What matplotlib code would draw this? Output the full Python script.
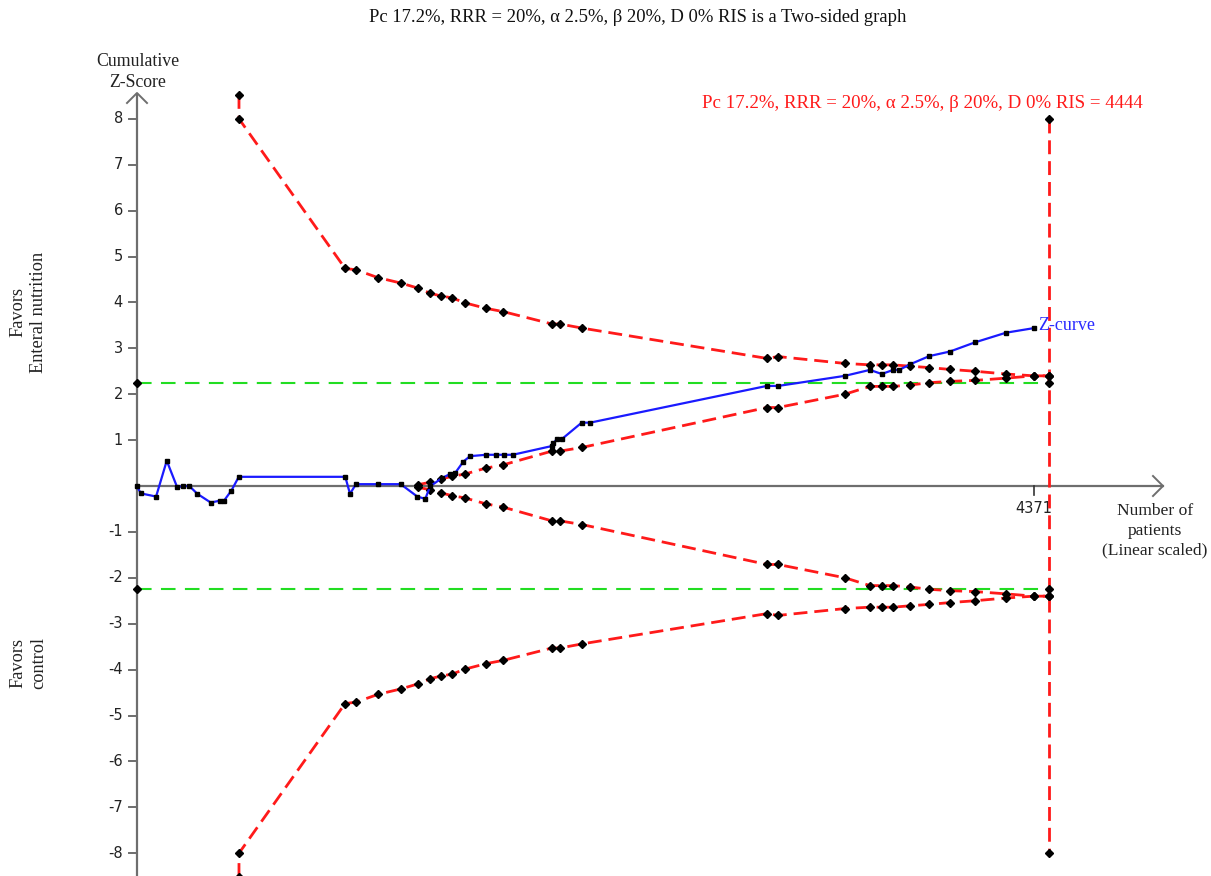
import matplotlib
matplotlib.use("Agg")
import matplotlib.pyplot as plt
import numpy as np

# Cumulative Z-curve (patients, Z)
z_n = [0, 18, 93, 145, 196, 226, 255, 294, 359, 404, 424, 460, 496, 1015, 1038,
       1067, 1174, 1285, 1366, 1405, 1428, 1485, 1525, 1550, 1590, 1623, 1701,
       1750, 1788, 1831, 2021, 2029, 2045, 2070, 2167, 2208, 3069, 3125, 3450,
       3572, 3629, 3686, 3715, 3767, 3861, 3962, 4084, 4235, 4371]
z_val = [0.0, -0.16, -0.23, 0.55, -0.03, 0.0, 0.0, -0.17, -0.36, -0.32, -0.32,
         -0.10, 0.20, 0.20, -0.17, 0.04, 0.04, 0.04, -0.23, -0.28, -0.01, 0.17,
         0.26, 0.28, 0.53, 0.65, 0.68, 0.68, 0.68, 0.68, 0.87, 0.93, 1.02, 1.02,
         1.38, 1.38, 2.18, 2.18, 2.40, 2.53, 2.44, 2.53, 2.53, 2.65, 2.83, 2.93,
         3.13, 3.34, 3.44]

# Trial sequential monitoring boundary (upper; lower is mirrored)
bnd_n = [497, 497, 1014, 1067, 1174, 1287, 1370, 1428, 1481, 1535, 1598, 1701,
         1784, 2022, 2061, 2169, 3070, 3124, 3450, 3572, 3631, 3684, 3767, 3860,
         3962, 4084, 4235, 4371, 4444]
bnd_z = [8.52, 8.0, 4.74, 4.71, 4.54, 4.42, 4.31, 4.20, 4.14, 4.10, 3.99, 3.87,
         3.80, 3.53, 3.53, 3.44, 2.78, 2.82, 2.67, 2.64, 2.64, 2.64, 2.61, 2.58,
         2.54, 2.50, 2.44, 2.40, 2.40]

# Inner wedge boundary (upper; lower is mirrored)
fut_n = [1370, 1428, 1481, 1535, 1598, 1701, 1784, 2022, 2061, 2169, 3070, 3124,
         3450, 3572, 3631, 3684, 3767, 3860, 3962, 4084, 4235, 4371, 4444, 4444]
fut_z = [0.03, 0.08, 0.15, 0.21, 0.26, 0.39, 0.46, 0.76, 0.76, 0.84, 1.71, 1.71,
         2.00, 2.17, 2.17, 2.17, 2.20, 2.25, 2.28, 2.30, 2.35, 2.40, 2.40, 2.24]

conv_z = 2.24          # conventional boundary
ris = 4444             # required information size
acc_n = 4371           # accrued patients
y_ticks = [-8, -7, -6, -5, -4, -3, -2, -1, 1, 2, 3, 4, 5, 6, 7, 8]

W, H = 1211, 876
fig = plt.figure(figsize=(W / 100, H / 100), dpi=100)
ax = fig.add_axes([0, 0, 1, 1])
# pixel mapping: origin at (137, 486), 0.2052 px/patient, 45.9 px/unit Z
px_n, px_z, x0, y0 = 0.2052, 45.9, 137, 486
ax.set_xlim(-x0 / px_n, (W - x0) / px_n)
ax.set_ylim((y0 - H) / px_z, y0 / px_z)
ax.axis("off")

serif = "Liberation Serif"
sans = "DejaVu Sans"
axis_col = "#6e6e6e"
red = "#ff1a1a"
green = "#22dd22"
ms_d = 4.0

# axes with arrow heads
ax.plot([0, 0], [(y0 - H) / px_z, (y0 - 93) / px_z], color=axis_col, lw=1.6,
        solid_capstyle="butt", zorder=2)
ax.plot([0, (1163 - x0) / px_n], [0, 0], color=axis_col, lw=1.6, zorder=2)
ah_n, ah_z = 10 / px_n, 10 / px_z
top = (y0 - 93) / px_z
ax.plot([-ah_n, 0, ah_n], [top - ah_z, top, top - ah_z], color=axis_col, lw=1.4)
right = (1163 - x0) / px_n
ax.plot([right - ah_n, right, right - ah_n], [ah_z, 0, -ah_z], color=axis_col, lw=1.4)

# y ticks
for t in y_ticks:
    ax.plot([-8 / px_n, 0], [t, t], color=axis_col, lw=1.4)
    ax.text(-14 / px_n, t, str(t), ha="right", va="center", fontsize=10.5,
            family=sans, color="#222222")
ax.plot([acc_n, acc_n], [0, -9 / px_z], color="#333333", lw=1.2)
ax.text(acc_n, -15 / px_z, str(acc_n), ha="center", va="top", fontsize=10.5,
        family=sans, color="#222222")

# conventional boundaries
for s in (1, -1):
    ax.plot([0, ris], [s * conv_z, s * conv_z], color=green, lw=1.5,
            dashes=(7, 4.5), zorder=3)
    ax.plot([0], [s * conv_z], marker="D", ms=ms_d, color="black", zorder=6)

# RIS vertical line
ax.plot([ris, ris], [8, -8], color=red, lw=2.0, dashes=(5, 2.5), zorder=3,
        marker="D", ms=ms_d, mfc="black", mec="black")

# monitoring and inner boundaries
for s in (1, -1):
    ax.plot(bnd_n, [s * v for v in bnd_z], color=red, lw=2.0, dashes=(5, 2.5),
            marker="D", ms=ms_d, mfc="black", mec="black", zorder=4)
    ax.plot(fut_n, [s * v for v in fut_z], color=red, lw=2.0, dashes=(5, 2.5),
            marker="D", ms=ms_d, mfc="black", mec="black", zorder=4)

# Z-curve
ax.plot(z_n, z_val, color="#1a1aff", lw=1.6, marker="s", ms=3.5, mfc="black",
        mec="black", zorder=5)
ax.text(acc_n + 4 / px_n, z_val[-1] + 3 / px_z, "Z-curve", color="#2a2aff",
        fontsize=13, family=serif, ha="left", va="center")

def at(px, py):
    return (px - x0) / px_n, (y0 - py) / px_z

ax.text(*at(638, 18), "Pc 17.2%, RRR = 20%, α 2.5%, β 20%, D 0% RIS is a Two-sided graph",
        ha="center", va="center", fontsize=13.4, family=serif, color="#111111")
ax.text(*at(1143, 103), "Pc 17.2%, RRR = 20%, α 2.5%, β 20%, D 0% RIS = 4444",
        ha="right", va="center", fontsize=13.6, family=serif, color=red)
ax.text(*at(138, 72), "Cumulative\nZ-Score", ha="center", va="center",
        fontsize=12.8, family=serif, color="#222222", linespacing=1.3)
ax.text(*at(1155, 531), "Number of\npatients\n(Linear scaled)", ha="center",
        va="center", fontsize=12.6, family=serif, color="#222222", linespacing=1.3)
ax.text(*at(28, 312), "Favors\nEnteral nutrition", ha="center", va="center",
        rotation=90, fontsize=13.2, family=serif, color="#222222", linespacing=1.3)
ax.text(*at(28, 663), "Favors\ncontrol", ha="center", va="center",
        rotation=90, fontsize=13.2, family=serif, color="#222222", linespacing=1.3)

fig.savefig("out.png", dpi=100, facecolor="white")
